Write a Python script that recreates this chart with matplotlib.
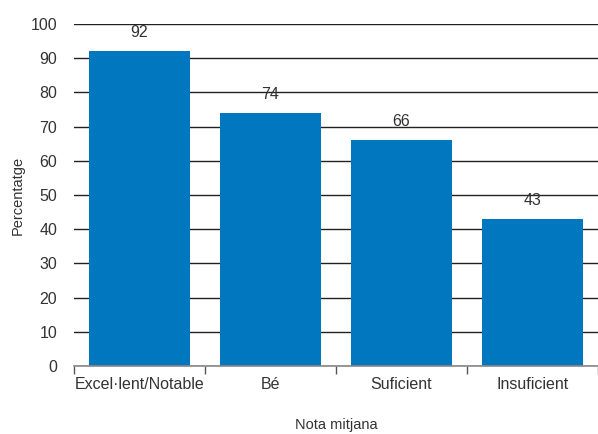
import matplotlib
matplotlib.use("Agg")
import matplotlib.pyplot as plt
import numpy as np

categories = ["Excel·lent/Notable", "Bé", "Suficient", "Insuficient"]
values = [92, 74, 66, 43]
yticks = [0, 10, 20, 30, 40, 50, 60, 70, 80, 90, 100]

plt.rcParams['font.family'] = ['Liberation Sans', 'DejaVu Sans']
text_color = "#333333"

fig = plt.figure(figsize=(5.98, 4.34), dpi=100)
ax = fig.add_axes([74/598, (434-366)/434, 1 - 74/598, (366-24)/434])

x = np.arange(len(categories))
bars = ax.bar(x, values, width=0.77, color="#0077bf", zorder=3)
for xi, v in zip(x, values):
    ax.text(xi, v + 3.2, str(v), ha="center", va="bottom", fontsize=11.5, color=text_color, zorder=4)

ax.set_xlim(-0.5, len(categories) - 0.5)
ax.set_ylim(0, 100)
ax.set_yticks(yticks)
ax.yaxis.grid(True, color="#222222", linewidth=1.0, zorder=0)
ax.set_axisbelow(True)

for s in ["top", "right", "left"]:
    ax.spines[s].set_visible(False)
ax.spines["bottom"].set_color("#888888")
ax.spines["bottom"].set_linewidth(1.2)
ax.spines["bottom"].set_zorder(5)

ax.set_xticks(x)
ax.set_xticklabels(categories, fontsize=11.5, color=text_color)
ax.tick_params(axis="x", which="major", length=0, pad=8)
ax.set_xticks(np.arange(-0.5, len(categories), 1.0), minor=True)
ax.tick_params(axis="x", which="minor", length=6, color="#555555", width=1)
ax.tick_params(axis="y", length=0, pad=12, labelsize=11.5, labelcolor=text_color)

fig.text(18/598, 1 - 195/434, "Percentatge", rotation=90, ha="center", va="center",
         fontsize=10.5, color=text_color)
fig.text(336/598, 1 - 425/434, "Nota mitjana", ha="center", va="center",
         fontsize=10.5, color=text_color)

fig.savefig("out.png", dpi=100)
